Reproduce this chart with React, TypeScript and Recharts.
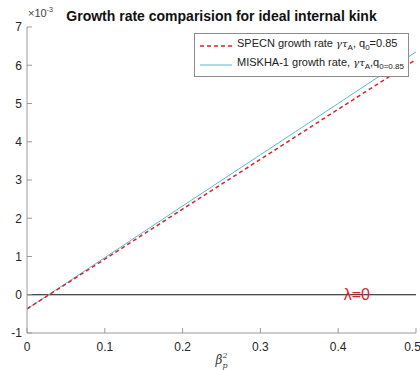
import { LineChart, Line, XAxis, YAxis, ReferenceLine, ReferenceDot } from 'recharts';

// beta_p^2 sample points and growth rates (units of 1e-3)
const betaP2 = [0, 0.03, 0.1, 0.2, 0.3, 0.4, 0.5];
const specnRate = [-0.37, 0.02, 0.93, 2.24, 3.54, 4.85, 6.15];
const miskhaRate = [-0.37, 0.03, 0.97, 2.32, 3.66, 5.0, 6.35];
const xTicks = [0, 0.1, 0.2, 0.3, 0.4, 0.5];
const yTicks = [-1, 0, 1, 2, 3, 4, 5, 6, 7];

const data = betaP2.map((b, i) => ({ b, specn: specnRate[i], miskha: miskhaRate[i] }));

const FONT = 'Liberation Sans, Arial, sans-serif';
const AXIS = '#9a9a9a';

function LegendBox() {
  return (
    <div
      style={{
        position: 'absolute',
        top: 33,
        left: 194,
        border: '1px solid #8c8c8c',
        background: '#fff',
        fontFamily: FONT,
        fontSize: 11,
        color: '#222',
        padding: '2px 4px 2px 4px',
        lineHeight: '14px',
        whiteSpace: 'nowrap',
      }}
    >
      <div style={{ display: 'flex', alignItems: 'center' }}>
        <svg width={34} height={8} style={{ marginRight: 4 }}>
          <line x1={1} y1={4} x2={33} y2={4} stroke="#e0202a" strokeWidth={1.5} strokeDasharray="4 3" />
        </svg>
        <span>
          SPECN growth rate <i style={{ fontFamily: 'DejaVu Serif, serif', fontSize: 10 }}>γτ</i>
          <sub style={{ fontSize: 8 }}>A</sub>, q<sub style={{ fontSize: 8 }}>0</sub>=0.85
        </span>
      </div>
      <div style={{ display: 'flex', alignItems: 'center' }}>
        <svg width={34} height={8} style={{ marginRight: 4 }}>
          <line x1={1} y1={4} x2={33} y2={4} stroke="#5cb8d0" strokeWidth={1} />
        </svg>
        <span>
          MISKHA-1 growth rate, <i style={{ fontFamily: 'DejaVu Serif, serif', fontSize: 10 }}>γτ</i>
          <sub style={{ fontSize: 8 }}>A</sub>,q<sub style={{ fontSize: 8 }}>0=0.85</sub>
        </span>
      </div>
    </div>
  );
}

function BetaLabel(props: any) {
  const vb = props.viewBox;
  const cx = vb.x + vb.width / 2;
  return (
    <text x={cx - 6} y={vb.y + 31} fontFamily="DejaVu Serif, serif" fontStyle="italic" fontSize={12} fill="#333">
      β
      <tspan dx={0} dy={4} fontSize={8}>p</tspan>
      <tspan dx={-5} dy={-10} fontSize={8}>2</tspan>
    </text>
  );
}

export default function App() {
  const tickStyle = { fontSize: 12, fill: '#262626', fontFamily: FONT };
  return (
    <div style={{ position: 'absolute', left: 0, top: 0, width: 420, height: 370, background: '#fff' }}>
      <div
        style={{
          position: 'absolute',
          left: 0,
          width: 443,
          top: 8,
          textAlign: 'center',
          fontFamily: FONT,
          fontWeight: 'bold',
          fontSize: 14,
          color: '#111',
        }}
      >
        Growth rate comparision for ideal internal kink
      </div>
      <div style={{ position: 'absolute', left: 28, top: 6, fontFamily: FONT, fontSize: 11, color: '#444' }}>
        ×10<sup style={{ fontSize: 7 }}>-3</sup>
      </div>
      <LineChart width={420} height={370} data={data} margin={{ top: 27, right: 4, bottom: 0, left: 0 }}>
        <XAxis
          dataKey="b"
          type="number"
          domain={[0, 0.5]}
          ticks={xTicks}
          stroke={AXIS}
          tickSize={-5}
          tickMargin={14}
          tick={tickStyle}
          height={37}
          label={<BetaLabel />}
          allowDataOverflow
        />
        <XAxis
          xAxisId="top"
          orientation="top"
          dataKey="b"
          type="number"
          domain={[0, 0.5]}
          ticks={xTicks}
          stroke={AXIS}
          tickSize={-5}
          tick={false}
          height={0}
        />
        <YAxis
          type="number"
          domain={[-1, 7]}
          ticks={yTicks}
          stroke={AXIS}
          tickSize={-5}
          tickMargin={10}
          tick={tickStyle}
          width={27}
          allowDataOverflow
        />
        <YAxis
          yAxisId="right"
          orientation="right"
          type="number"
          domain={[-1, 7]}
          ticks={yTicks}
          stroke={AXIS}
          tickSize={-5}
          tick={false}
          width={0}
        />
        <ReferenceLine y={0} stroke="#111" strokeWidth={1} />
        <Line
          type="linear"
          dataKey="miskha"
          stroke="#5cb8d0"
          strokeWidth={1}
          dot={false}
          isAnimationActive={false}
        />
        <Line
          type="linear"
          dataKey="specn"
          stroke="#e0202a"
          strokeWidth={1.5}
          strokeDasharray="4 3"
          dot={false}
          isAnimationActive={false}
        />
        <ReferenceDot
          x={0.424}
          y={0}
          r={0}
          stroke="none"
          label={{ value: 'λ=0', position: 'center', fill: '#e0202a', fontSize: 16, fontFamily: FONT }}
        />
      </LineChart>
      <LegendBox />
    </div>
  );
}
